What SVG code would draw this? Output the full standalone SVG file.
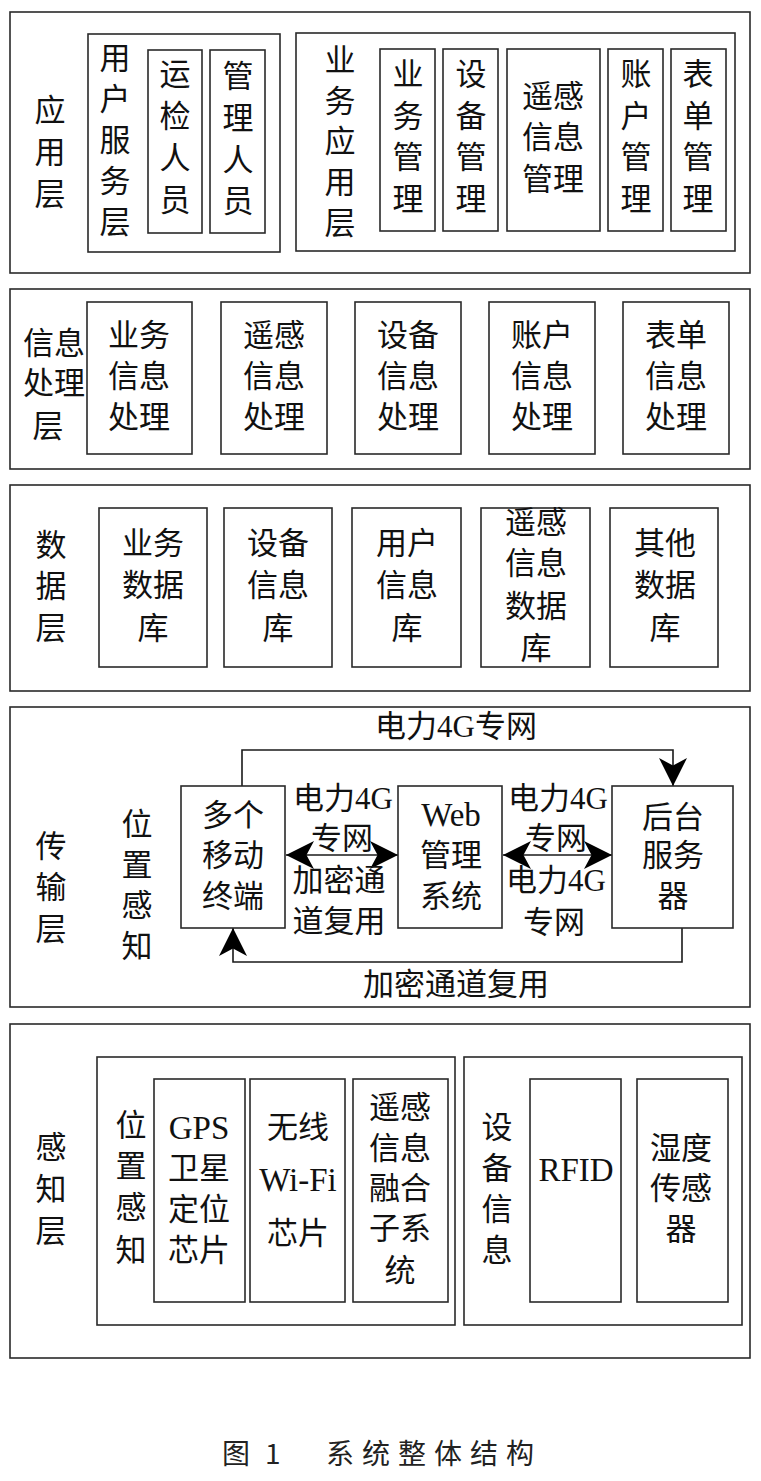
<svg xmlns="http://www.w3.org/2000/svg" width="761" height="1481" viewBox="0 0 761 1481">
<style>
.box{fill:#fff;stroke:#2a2a2a;stroke-width:1.6}
.grp{fill:none;stroke:#2a2a2a;stroke-width:1.6}
.t{font-family:"Liberation Serif","Noto Sans CJK SC",serif;font-size:31px;fill:#111;text-anchor:middle;dominant-baseline:central}
.lat{font-size:33px}
.cap{font-family:"Noto Sans CJK SC","Liberation Serif",serif;font-size:28px;fill:#222;dominant-baseline:central}
.wire{fill:none;stroke:#1a1a1a;stroke-width:1.6}
</style>
<defs>
<marker id="ah" markerUnits="userSpaceOnUse" markerWidth="28" markerHeight="28" viewBox="0 0 26 26" refX="26" refY="13" orient="auto-start-reverse">
<path d="M0,0 L26,13 L0,26 L7,13 z" fill="#000"/>
</marker>
</defs>
<rect width="761" height="1481" fill="#fff"/>

<!-- Application layer -->
<g id="app-layer">
<rect class="grp" x="10" y="12" width="740" height="261"/>
<text class="t"><tspan x="50" y="110">应</tspan><tspan x="50" y="152">用</tspan><tspan x="50" y="194">层</tspan></text>
</g>
<g id="user-service">
<rect class="grp" x="88" y="34" width="192" height="218"/>
<text class="t"><tspan x="115" y="58">用</tspan><tspan x="115" y="99">户</tspan><tspan x="115" y="140">服</tspan><tspan x="115" y="181">务</tspan><tspan x="115" y="222">层</tspan></text>
</g>
<g id="inspector">
<rect class="box" x="148" y="50" width="54" height="183"/>
<text class="t"><tspan x="175" y="74">运</tspan><tspan x="175" y="116">检</tspan><tspan x="175" y="158">人</tspan><tspan x="175" y="200">员</tspan></text>
</g>
<g id="manager">
<rect class="box" x="210" y="50" width="55" height="183"/>
<text class="t"><tspan x="238" y="76">管</tspan><tspan x="238" y="118">理</tspan><tspan x="238" y="160">人</tspan><tspan x="238" y="201">员</tspan></text>
</g>
<g id="biz-app">
<rect class="grp" x="296" y="33" width="439" height="218"/>
<text class="t"><tspan x="340" y="60">业</tspan><tspan x="340" y="101">务</tspan><tspan x="340" y="141">应</tspan><tspan x="340" y="182">用</tspan><tspan x="340" y="223">层</tspan></text>
</g>
<g id="biz-mgmt">
<rect class="box" x="380" y="49" width="55" height="182"/>
<text class="t"><tspan x="408" y="74">业</tspan><tspan x="408" y="116">务</tspan><tspan x="408" y="157">管</tspan><tspan x="408" y="199">理</tspan></text>
</g>
<g id="dev-mgmt">
<rect class="box" x="443" y="49" width="55" height="182"/>
<text class="t"><tspan x="471" y="74">设</tspan><tspan x="471" y="116">备</tspan><tspan x="471" y="157">管</tspan><tspan x="471" y="199">理</tspan></text>
</g>
<g id="rs-mgmt">
<rect class="box" x="507" y="49" width="93" height="182"/>
<text class="t"><tspan x="553" y="96">遥感</tspan><tspan x="553" y="137">信息</tspan><tspan x="553" y="179">管理</tspan></text>
</g>
<g id="acct-mgmt">
<rect class="box" x="608" y="49" width="55" height="182"/>
<text class="t"><tspan x="636" y="74">账</tspan><tspan x="636" y="116">户</tspan><tspan x="636" y="157">管</tspan><tspan x="636" y="199">理</tspan></text>
</g>
<g id="form-mgmt">
<rect class="box" x="671" y="49" width="55" height="182"/>
<text class="t"><tspan x="698" y="74">表</tspan><tspan x="698" y="116">单</tspan><tspan x="698" y="157">管</tspan><tspan x="698" y="199">理</tspan></text>
</g>

<!-- Information processing layer -->
<g id="proc-layer">
<rect class="grp" x="10" y="289" width="740" height="180"/>
<text class="t"><tspan x="54" y="343">信息</tspan><tspan x="54" y="383">处理</tspan><tspan x="48" y="426">层</tspan></text>
</g>
<g id="proc-biz">
<rect class="box" x="87" y="302" width="105" height="152"/>
<text class="t"><tspan x="139" y="335">业务</tspan><tspan x="139" y="376">信息</tspan><tspan x="139" y="417">处理</tspan></text>
</g>
<g id="proc-rs">
<rect class="box" x="221" y="302" width="106" height="152"/>
<text class="t"><tspan x="274" y="335">遥感</tspan><tspan x="274" y="376">信息</tspan><tspan x="274" y="417">处理</tspan></text>
</g>
<g id="proc-dev">
<rect class="box" x="355" y="302" width="106" height="152"/>
<text class="t"><tspan x="408" y="335">设备</tspan><tspan x="408" y="376">信息</tspan><tspan x="408" y="417">处理</tspan></text>
</g>
<g id="proc-acct">
<rect class="box" x="489" y="302" width="106" height="152"/>
<text class="t"><tspan x="542" y="335">账户</tspan><tspan x="542" y="376">信息</tspan><tspan x="542" y="417">处理</tspan></text>
</g>
<g id="proc-form">
<rect class="box" x="623" y="302" width="106" height="152"/>
<text class="t"><tspan x="676" y="335">表单</tspan><tspan x="676" y="376">信息</tspan><tspan x="676" y="417">处理</tspan></text>
</g>

<!-- Data layer -->
<g id="data-layer">
<rect class="grp" x="10" y="485" width="740" height="206"/>
<text class="t"><tspan x="51" y="545">数</tspan><tspan x="51" y="586">据</tspan><tspan x="51" y="628">层</tspan></text>
</g>
<g id="db-biz">
<rect class="box" x="99" y="508" width="108" height="159"/>
<text class="t"><tspan x="153" y="543">业务</tspan><tspan x="153" y="585">数据</tspan><tspan x="153" y="628">库</tspan></text>
</g>
<g id="db-dev">
<rect class="box" x="224" y="508" width="108" height="159"/>
<text class="t"><tspan x="278" y="543">设备</tspan><tspan x="278" y="585">信息</tspan><tspan x="278" y="628">库</tspan></text>
</g>
<g id="db-user">
<rect class="box" x="352" y="508" width="109" height="159"/>
<text class="t"><tspan x="407" y="543">用户</tspan><tspan x="407" y="585">信息</tspan><tspan x="407" y="628">库</tspan></text>
</g>
<g id="db-rs">
<rect class="box" x="481" y="508" width="109" height="159"/>
<text class="t"><tspan x="536" y="522">遥感</tspan><tspan x="536" y="563">信息</tspan><tspan x="536" y="606">数据</tspan><tspan x="536" y="648">库</tspan></text>
</g>
<g id="db-other">
<rect class="box" x="610" y="508" width="108" height="159"/>
<text class="t"><tspan x="665" y="543">其他</tspan><tspan x="665" y="585">数据</tspan><tspan x="665" y="628">库</tspan></text>
</g>

<!-- Transport layer -->
<g id="trans-layer">
<rect class="grp" x="10" y="707" width="740" height="300"/>
<text class="t"><tspan x="51" y="846">传</tspan><tspan x="51" y="887">输</tspan><tspan x="51" y="929">层</tspan></text>
<text class="t"><tspan x="137" y="824">位</tspan><tspan x="137" y="865">置</tspan><tspan x="137" y="905">感</tspan><tspan x="137" y="946">知</tspan></text>
</g>
<g id="connectors">
<path class="wire" d="M242,786 V750 H673 V786" marker-end="url(#ah)"/>
<path class="wire" d="M682,928 V962 H233 V928" marker-end="url(#ah)"/>
<line class="wire" x1="286" y1="855" x2="398" y2="855" marker-start="url(#ah)" marker-end="url(#ah)"/>
<line class="wire" x1="503" y1="855" x2="612" y2="855" marker-start="url(#ah)" marker-end="url(#ah)"/>
<text class="t" x="456" y="726">电力4G专网</text>
<text class="t" x="456" y="984">加密通道复用</text>
<text class="t"><tspan x="343" y="798">电力4G</tspan><tspan x="342" y="838">专网</tspan><tspan x="339" y="880">加密通</tspan><tspan x="339" y="921">道复用</tspan></text>
<text class="t"><tspan x="558" y="798">电力4G</tspan><tspan x="556" y="838">专网</tspan><tspan x="556" y="880">电力4G</tspan><tspan x="554" y="922">专网</tspan></text>
</g>
<g id="mobile">
<rect class="box" x="181" y="786" width="104" height="142"/>
<text class="t"><tspan x="233" y="815">多个</tspan><tspan x="233" y="855">移动</tspan><tspan x="233" y="896">终端</tspan></text>
</g>
<g id="web">
<rect class="box" x="398" y="786" width="104" height="142"/>
<text class="t"><tspan x="451" y="815" class="lat">Web</tspan><tspan x="451" y="855">管理</tspan><tspan x="451" y="896">系统</tspan></text>
</g>
<g id="server">
<rect class="box" x="612" y="786" width="121" height="142"/>
<text class="t"><tspan x="673" y="817">后台</tspan><tspan x="673" y="855">服务</tspan><tspan x="673" y="896">器</tspan></text>
</g>

<!-- Perception layer -->
<g id="sense-layer">
<rect class="grp" x="10" y="1024" width="740" height="334"/>
<text class="t"><tspan x="51" y="1147">感</tspan><tspan x="51" y="1189">知</tspan><tspan x="51" y="1231">层</tspan></text>
</g>
<g id="pos-sense">
<rect class="grp" x="97" y="1057" width="358" height="268"/>
<text class="t"><tspan x="131" y="1125">位</tspan><tspan x="131" y="1166">置</tspan><tspan x="131" y="1207">感</tspan><tspan x="131" y="1250">知</tspan></text>
</g>
<g id="gps">
<rect class="box" x="154" y="1079" width="91" height="223"/>
<text class="t"><tspan x="199" y="1128" class="lat">GPS</tspan><tspan x="199" y="1168">卫星</tspan><tspan x="199" y="1209">定位</tspan><tspan x="199" y="1250">芯片</tspan></text>
</g>
<g id="wifi">
<rect class="box" x="250" y="1079" width="95" height="223"/>
<text class="t"><tspan x="298" y="1127">无线</tspan><tspan x="298" y="1180" class="lat">Wi-Fi</tspan><tspan x="298" y="1233">芯片</tspan></text>
</g>
<g id="rs-fusion">
<rect class="box" x="353" y="1079" width="95" height="223"/>
<text class="t"><tspan x="400" y="1107">遥感</tspan><tspan x="400" y="1148">信息</tspan><tspan x="400" y="1188">融合</tspan><tspan x="400" y="1228">子系</tspan><tspan x="400" y="1270">统</tspan></text>
</g>
<g id="dev-info">
<rect class="grp" x="464" y="1057" width="278" height="268"/>
<text class="t"><tspan x="497" y="1127">设</tspan><tspan x="497" y="1168">备</tspan><tspan x="497" y="1209">信</tspan><tspan x="497" y="1250">息</tspan></text>
</g>
<g id="rfid">
<rect class="box" x="530" y="1079" width="91" height="223"/>
<text class="t lat" x="576" y="1170">RFID</text>
</g>
<g id="humidity">
<rect class="box" x="637" y="1079" width="91" height="223"/>
<text class="t"><tspan x="681" y="1148">湿度</tspan><tspan x="681" y="1188">传感</tspan><tspan x="681" y="1229">器</tspan></text>
</g>

<!-- Caption -->
<g id="caption">
<text class="cap" x="222" y="1452">图</text>
<text class="cap" x="265" y="1452" font-family="Liberation Serif">1</text>
<text class="cap" x="326" y="1452" letter-spacing="8">系统整体结构</text>
</g>
</svg>
